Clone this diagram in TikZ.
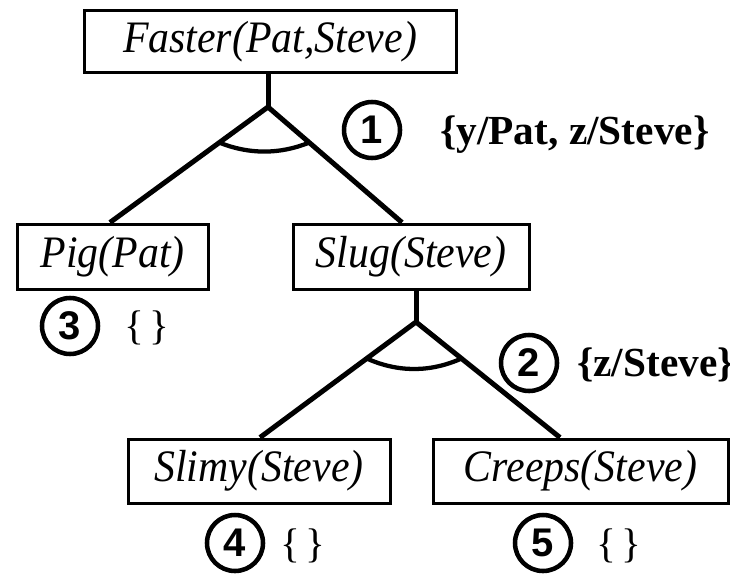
\documentclass[tikz,border=0pt]{standalone}
\usepackage{fontspec}
\setmainfont{Liberation Serif}
\newfontfamily\labelfont[FakeStretch=0.93]{Liberation Serif}
\newfontfamily\digitfont{Liberation Sans}
\usetikzlibrary{calc}
\begin{document}
\begin{tikzpicture}[x=0.75pt,y=-0.75pt,
  box/.style={draw, line width=2.25pt, inner sep=0pt, font=\labelfont\fontsize{33.75}{38}\selectfont\itshape},
  conn/.style={line width=3.75pt},
  andarc/.style={line width=3.2pt},
  circ/.style={draw, circle, line width=3.4pt, minimum size=42pt, inner sep=0pt, font=\digitfont\bfseries\fontsize{30}{32}\selectfont},
  subst/.style={font=\fontsize{31}{36}\selectfont\bfseries, inner sep=0pt, anchor=west},
  emptyset/.style={font=\fontsize{31}{36}\selectfont, inner sep=0pt}]
\useasboundingbox (0,0) rectangle (730,574);
% boxes
\node[box, minimum width=279pt, minimum height=46.5pt] (faster) at (270,42) {Faster(Pat,Steve)\hspace{15pt}};
\node[box, minimum width=143.25pt, minimum height=48.75pt] (pig) at (112.5,256.5) {Pig(Pat)};
\node[box, minimum width=177pt, minimum height=48.75pt] (slug) at (411,256.5) {Slug(Steve)};
\node[box, minimum width=196.5pt, minimum height=48pt] (slimy) at (259,471) {Slimy(Steve)};
\node[box, minimum width=221.25pt, minimum height=48pt] (creeps) at (580.5,471) {Creeps(Steve)};
% upper AND node
\coordinate (a1) at (268,107);
\coordinate (p1) at ([xshift=-1.9pt]pig.north);
\coordinate (s1) at ([xshift=-6.75pt]slug.north);
\draw[conn] (a1 |- faster.south) -- (a1);
\draw[conn] (a1) -- (p1);
\draw[conn] (a1) -- (s1);
\coordinate (l1) at ($(a1)!0.308!(p1)$);
\coordinate (r1) at ($(a1)!0.308!(s1)$);
\draw[andarc] (l1) .. controls ($(l1)!0.33!(r1)+(0,12)$) and ($(l1)!0.67!(r1)+(0,12)$) .. (r1);
% lower AND node
\coordinate (a2) at (416,322);
\coordinate (p2) at ([xshift=0.75pt]slimy.north);
\coordinate (s2) at ([xshift=-15.4pt]creeps.north);
\draw[conn] (a2 |- slug.south) -- (a2);
\draw[conn] (a2) -- (p2);
\draw[conn] (a2) -- (s2);
\coordinate (l2) at ($(a2)!0.316!(p2)$);
\coordinate (r2) at ($(a2)!0.316!(s2)$);
\draw[andarc] (l2) .. controls ($(l2)!0.33!(r2)+(0,14)$) and ($(l2)!0.67!(r2)+(0,14)$) .. (r2);
% step numbers and substitutions
\node[circ] (c1) at (372,130) {1};
\node[subst] (u1) at (440,135) {\{y/Pat, z/Steve\}};
\node[circ] (c2) at (529,363) {2};
\node[subst] (u2) at (577,365) {\{z/Steve\}};
\node[circ] (c3) at (70,326) {3};
\node[emptyset] (e3) at (147,328) {\{\hspace{4pt}\}};
\node[circ] (c4) at (235,543) {4};
\node[emptyset] (e4) at (303,546) {\{\hspace{4pt}\}};
\node[circ] (c5) at (543,543) {5};
\node[emptyset] (e5) at (619,546) {\{\hspace{4pt}\}};
\end{tikzpicture}
\end{document}
